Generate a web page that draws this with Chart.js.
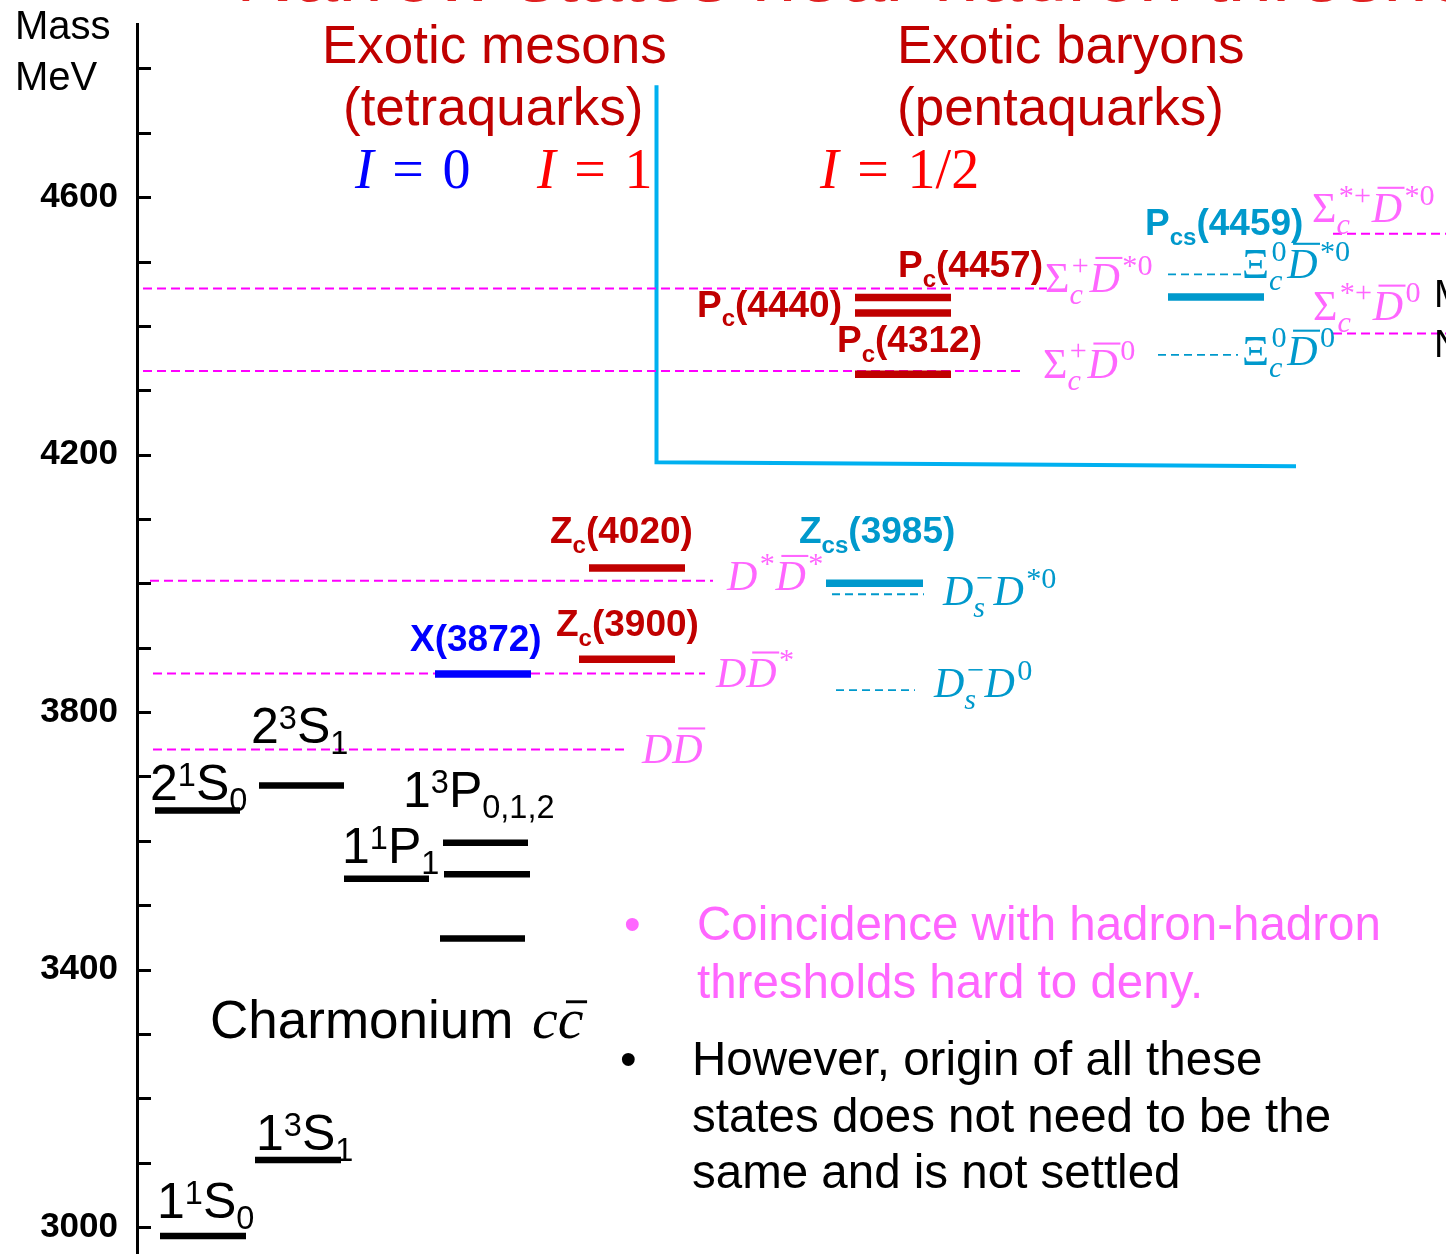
<!DOCTYPE html>
<html>
<head>
<meta charset="utf-8">
<script src="https://cdn.jsdelivr.net/npm/chart.js@4.4.1/dist/chart.umd.min.js"></script>
<style>
  html, body { margin: 0; padding: 0; background: #fff; overflow: hidden; }
  canvas { display: block; }
</style>
</head>
<body>
<canvas id="chart" width="1446" height="1254"></canvas>
<script>
// Masses (MeV)
const charmStates = ['etac(1S)', 'J/psi', 'etac(2S)', 'psi(2S)', 'hc', 'chic2', 'chic1', 'chic0'];
const charmMass = [2986, 3104, 3647, 3686, 3541, 3597, 3548, 3448];

const exoticStates = ['X(3872)', 'Zc(3900)', 'Zc(4020)', 'Zcs(3985)', 'Pc(4457)', 'Pc(4440)', 'Pc(4312)', 'Pcs(4459)'];
const exoticMass = [3859, 3882, 4024, 4000, 4444, 4420, 4325, 4445];

const thresholdNames = ['DDbar', 'DDbar*', 'D*Dbar*', 'Ds-D*0', 'Ds-D0', 'Sc+Dbar*0', 'Sc+Dbar0', 'Xc0Dbar*0', 'Xc0Dbar0', 'Sc*+Dbar*0', 'Sc*+Dbar0'];
const thresholdMass = [3742, 3860, 4004, 3983, 3834, 4458, 4330, 4480, 4355, 4543, 4388];

const tickValues = [3000, 3400, 3800, 4200, 4600];

// layout: horizontal columns (x units, 1 unit = 10px of plot width)
const charmSpan = [[2.3, 10.9], [11.8, 20.4], [1.8, 10.3], [12.2, 20.7], [20.7, 29.2], [30.6, 39.1], [30.7, 39.3], [30.3, 38.8]];
const exoticSpan = [[29.8, 39.4], [44.2, 53.8], [45.2, 54.8], [68.9, 78.6], [71.8, 81.4], [71.8, 81.4], [71.8, 81.4], [103.1, 112.7]];
const exoticColor = ['#0000ff', '#c00000', '#c00000', '#0099cc', '#c00000', '#c00000', '#c00000', '#0099cc'];
const thrSpan = [[1.6, 48.8], [1.6, 56.8], [1.3, 57.6], [69.5, 78.7], [69.9, 77.8], [0.6, 91], [0.6, 88.3], [103.1, 110.6], [102.1, 110.1], [119.6, 130.9], [119.6, 130.9]];
const thrKind = ['m', 'm', 'm', 'c', 'c', 'm', 'm', 'c', 'c', 'm', 'm'];

// label markup: ^{} superscript, _{} subscript, ~X overline
const charmLabels = [
  { s: '1^{1}S_{0}', x: 2.0, m: 3014 },
  { s: '1^{3}S_{1}', x: 11.9, m: 3120 },
  { s: '2^{1}S_{0}', x: 1.3, m: 3663 },
  { s: '2^{3}S_{1}', x: 11.4, m: 3752 },
  { s: '1^{1}P_{1}', x: 20.5, m: 3565 },
  { s: '1^{3}P_{0,1,2}', x: 26.6, m: 3653 }
];
const exoticLabels = [
  { s: 'X(3872)', x: 27.3, m: 3895 },
  { s: 'Z_{c}(3900)', x: 41.9, m: 3918 },
  { s: 'Z_{c}(4020)', x: 41.3, m: 4062 },
  { s: 'Z_{cs}(3985)', x: 66.2, m: 4062 },
  { s: 'P_{c}(4457)', x: 76.1, m: 4476 },
  { s: 'P_{c}(4440)', x: 56.0, m: 4414 },
  { s: 'P_{c}(4312)', x: 70.0, m: 4359 },
  { s: 'P_{cs}(4459)', x: 100.8, m: 4541 }
];
const thrLabels = [
  { s: 'D~D', x: 50.5, m: 3721 },
  { s: 'D~D^{*}', x: 57.9, m: 3839 },
  { s: 'D^{*}~D^{*}', x: 59.0, m: 3989 },
  { s: 'D_{s}^{−}D^{*0}', x: 80.6, m: 3966 },
  { s: 'D_{s}^{−}D^{0}', x: 79.7, m: 3823 },
  { s: 'Σ_{c}^{+}~D^{*0}', x: 90.8, m: 4452 },
  { s: 'Σ_{c}^{+}~D^{0}', x: 90.6, m: 4319 },
  { s: 'Ξ_{c}^{0}~D^{*0}', x: 110.5, m: 4474 },
  { s: 'Ξ_{c}^{0}~D^{0}', x: 110.5, m: 4339 },
  { s: 'Σ_{c}^{*+}~D^{*0}', x: 117.5, m: 4561 },
  { s: 'Σ_{c}^{*+}~D^{0}', x: 117.6, m: 4409 }
];

const SANS = '"Liberation Sans", Arial, sans-serif';
const SERIF = '"Liberation Serif", "Times New Roman", serif';
const FONTS = {
  charm: { size: 50, family: SANS, weight: 'normal', scale: 0.65, rise: 0.28, drop: 0.22 },
  title: { size: 53, family: SANS, weight: 'normal', scale: 0.65, rise: 0.28, drop: 0.22 },
  exotic: { size: 37, family: SANS, weight: 'bold', scale: 0.65, rise: 0.3, drop: 0.26 },
  math: { size: 42, family: SERIF, weight: 'normal', math: true, scale: 0.72, rise: 0.42, drop: 0.28 },
  iso: { size: 56, family: SERIF, weight: 'normal', math: true, scale: 0.7, rise: 0.4, drop: 0.25 },
  cc: { size: 58, family: SERIF, weight: 'normal', math: true, scale: 0.7, rise: 0.4, drop: 0.25 }
};

function parseRich(s) {
  const items = [];
  let i = 0;
  while (i < s.length) {
    const ch = s[i];
    if (ch === '_' || ch === '^') {
      const end = s.indexOf('}', i);
      const txt = s.slice(i + 2, end);
      const key = ch === '_' ? 'sub' : 'sup';
      const last = items[items.length - 1];
      if (last && last.script && !last[key]) last[key] = txt;
      else items.push({ script: true, [key]: txt });
      i = end + 1;
    } else if (ch === '~') {
      items.push({ t: s[i + 1], bar: true });
      i += 2;
    } else {
      items.push({ t: ch });
      i++;
    }
  }
  return items;
}

function drawRun(ctx, text, x, y, size, f) {
  let w = 0;
  for (const ch of text) {
    const italic = f.math && /[A-Za-z]/.test(ch);
    ctx.font = (italic ? 'italic ' : '') + f.weight + ' ' + size + 'px ' + f.family;
    ctx.fillText(ch, x + w, y);
    w += ctx.measureText(ch).width;
  }
  return w;
}

function drawRich(ctx, s, px, py, f, color) {
  ctx.fillStyle = color;
  ctx.strokeStyle = color;
  let x = px;
  for (const it of parseRich(s)) {
    if (it.script) {
      const size = f.size * f.scale;
      let w = 0;
      if (it.sup) w = Math.max(w, drawRun(ctx, it.sup, x + (f.math ? size * 0.08 : 0), py - f.rise * f.size, size, f));
      if (it.sub) w = Math.max(w, drawRun(ctx, it.sub, x, py + f.drop * f.size, size, f));
      x += w + (f.math ? size * 0.1 : 0);
    } else {
      const w = drawRun(ctx, it.t, x, py, f.size, f);
      if (it.bar) {
        const h = /[A-Z]/.test(it.t) ? 0.82 : 0.62;
        ctx.lineWidth = Math.max(1.5, f.size * 0.05);
        ctx.beginPath();
        ctx.moveTo(x + f.size * 0.14, py - h * f.size);
        ctx.lineTo(x + w + f.size * 0.06, py - h * f.size);
        ctx.stroke();
      }
      x += w;
    }
  }
  return x;
}

// slide texts around the diagram
const headerTexts = [
  { s: 'Mass', x: 15, y: 39, size: 40, color: '#000' },
  { s: 'MeV', x: 15, y: 90, size: 40, color: '#000' },
  { s: 'Exotic mesons', x: 322, y: 63, size: 53, color: '#c00000' },
  { s: '(tetraquarks)', x: 343, y: 125, size: 53, color: '#c00000' },
  { s: 'Exotic baryons', x: 897, y: 63, size: 53, color: '#c00000' },
  { s: '(pentaquarks)', x: 897, y: 125, size: 53, color: '#c00000' },
  { s: 'M', x: 1434, y: 307, size: 38, color: '#000' },
  { s: 'N', x: 1434, y: 357, size: 38, color: '#000' },
  { s: 'Narrow states near hadron thresholds', x: 236, y: 1, size: 80, color: '#e02020' }
];
const isoTexts = [
  { s: 'I\u2004=\u20040', x: 355, y: 188, color: '#0000ff' },
  { s: 'I\u2004=\u20041', x: 537, y: 188, color: '#ff0000' },
  { s: 'I\u2004=\u20041/2', x: 820, y: 188, color: '#ff0000' }
];
const bulletTexts = [
  { s: '•', x: 624, y: 940, color: '#ff66ff' },
  { s: 'Coincidence with hadron-hadron', x: 697, y: 940, color: '#ff66ff' },
  { s: 'thresholds hard to deny.', x: 697, y: 998, color: '#ff66ff' },
  { s: '•', x: 620, y: 1075, color: '#000' },
  { s: 'However, origin of all these', x: 692, y: 1075, color: '#000' },
  { s: 'states does not need to be the', x: 692, y: 1132, color: '#000' },
  { s: 'same and is not settled', x: 692, y: 1188, color: '#000' }
];

function seg(span, m, color, width) {
  return {
    data: [{ x: span[0], y: m }, { x: span[1], y: m }],
    borderColor: color,
    borderWidth: width,
    borderCapStyle: 'butt',
    pointRadius: 0,
    fill: false,
    tension: 0,
    order: 1
  };
}

const datasets = [];
charmMass.forEach((m, i) => datasets.push(seg(charmSpan[i], m, '#000', 6.5)));
exoticMass.forEach((m, i) => datasets.push(seg(exoticSpan[i], m, exoticColor[i], 7.5)));
thresholdMass.forEach((m, i) => {
  const mag = thrKind[i] === 'm';
  const ds = seg(thrSpan[i], m, mag ? '#ff00ff' : '#0099cc', mag ? 2 : 1.8);
  ds.borderDash = mag ? [9, 5] : [8, 5];
  ds.order = 2;
  datasets.push(ds);
});
// pentaquark box
datasets.push({
  data: [{ x: 51.95, y: 4774 }, { x: 51.95, y: 4188 }, { x: 115.9, y: 4182 }],
  borderColor: '#00b0f0',
  borderWidth: 4,
  borderJoinStyle: 'miter',
  pointRadius: 0,
  fill: false,
  tension: 0,
  order: 3
});

const textPlugin = {
  id: 'texts',
  afterDatasetsDraw(chart) {
    const { ctx, scales: { x, y }, chartArea } = chart;
    ctx.save();
    ctx.textAlign = 'left';
    ctx.textBaseline = 'alphabetic';

    // tick marks pointing into the plot
    ctx.strokeStyle = '#000';
    ctx.lineWidth = 3;
    for (let v = 3000; v <= 4800; v += 100) {
      const py = Math.round(y.getPixelForValue(v)) + 0.5;
      ctx.beginPath();
      ctx.moveTo(chartArea.left, py);
      ctx.lineTo(chartArea.left + 14, py);
      ctx.stroke();
    }

    charmLabels.forEach(l => drawRich(ctx, l.s, x.getPixelForValue(l.x), y.getPixelForValue(l.m), FONTS.charm, '#000'));
    exoticLabels.forEach((l, i) => drawRich(ctx, l.s, x.getPixelForValue(l.x), y.getPixelForValue(l.m), FONTS.exotic, exoticColor[i]));
    thrLabels.forEach((l, i) => drawRich(ctx, l.s, x.getPixelForValue(l.x), y.getPixelForValue(l.m), FONTS.math, thrKind[i] === 'm' ? '#ff66ff' : '#0099cc'));

    // Charmonium c cbar
    const cy = y.getPixelForValue(3294);
    const cx = drawRich(ctx, 'Charmonium ', x.getPixelForValue(7.3), cy, FONTS.title, '#000');
    drawRich(ctx, 'c~c', cx + 4, cy, FONTS.cc, '#000');

    headerTexts.forEach(t => {
      ctx.font = t.size + 'px ' + SANS;
      ctx.fillStyle = t.color;
      ctx.fillText(t.s, t.x, t.y);
    });
    isoTexts.forEach(t => drawRich(ctx, t.s, t.x, t.y, FONTS.iso, t.color));
    bulletTexts.forEach(t => {
      ctx.font = '47.5px ' + SANS;
      ctx.fillStyle = t.color;
      ctx.fillText(t.s, t.x, t.y);
    });
    ctx.restore();
  }
};

new Chart(document.getElementById('chart'), {
  type: 'line',
  data: { datasets },
  options: {
    responsive: false,
    animation: false,
    events: [],
    layout: { padding: { top: 24, left: 0, right: 0, bottom: 0 } },
    plugins: { legend: { display: false }, tooltip: { enabled: false }, title: { display: false } },
    scales: {
      x: { type: 'linear', min: 0, max: 130.9, display: false },
      y: {
        type: 'linear',
        min: 2958,
        max: 4869,
        afterBuildTicks: axis => {
          axis.ticks = [];
          for (let v = 3000; v <= 4800; v += 100) axis.ticks.push({ value: v });
        },
        afterFit: axis => {
          axis.width = 137;
          axis.paddingTop = 0;
          axis.paddingBottom = 0;
          axis.paddingLeft = 0;
          axis.paddingRight = 0;
        },
        grid: { display: false, drawTicks: false },
        border: { display: true, color: '#000', width: 3 },
        ticks: {
          autoSkip: false,
          padding: 19,
          color: '#000',
          font: { family: SANS, weight: 'bold', size: 35 },
          callback: v => tickValues.includes(v) ? String(v) : ''
        }
      }
    }
  },
  plugins: [textPlugin]
});
</script>
</body>
</html>
